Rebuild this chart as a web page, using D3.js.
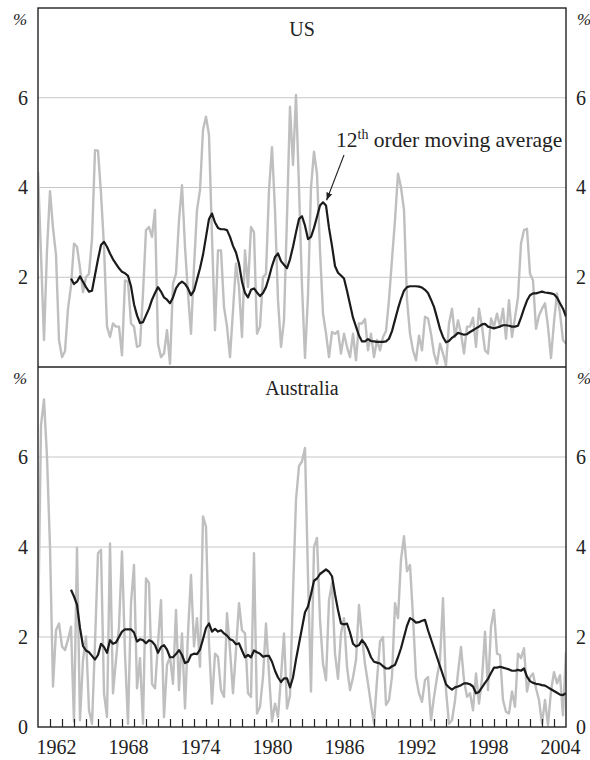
<!DOCTYPE html>
<html>
<head>
<meta charset="utf-8">
<script src="https://cdn.jsdelivr.net/npm/d3@7"></script>
<style>
  body { margin: 0; background: #fff; }
  text { font-family: "Liberation Serif", "Times New Roman", serif; fill: #222; }
</style>
</head>
<body>
<svg width="590" height="760"></svg>
<script>
// quarterly series, first point at 1961.0
var rawStart = 1961;
var usRaw = [
  4.35, 2.5, 0.6, 2.6,   3.92, 3.1, 2.5, 0.6,   0.22, 0.35, 1.3, 1.8,   2.75, 2.68, 2.2, 1.67,
  2.0, 2.08, 2.85, 4.83, 4.82, 3.87, 2.68, 0.9,  0.67, 0.97, 0.9, 0.9,   0.26, 1.93, 1.9, 0.97,
  0.9, 0.45, 0.48, 1.64, 3.05, 3.12, 2.9, 3.5,   0.52, 0.22, 0.3, 0.82,  0.07, 1.86, 2.08, 3.27,
  4.05, 2.68, 1.64, 0.74, 2.23, 3.5, 3.94, 5.28, 5.58, 5.17, 2.9, 0.82,  2.6, 2.6, 1.34, 0.9,
  0.22, 1.26, 2.3, 1.78, 0.67, 2.6, 1.78, 3.12,  3.0, 0.74, 0.9, 2.0,    2.08, 3.94, 4.9, 3.5,
  1.49, 0.45, 1.04, 3.35, 5.8, 4.5, 6.06, 4.0,   1.8, 0.2, 1.6, 4.0,     4.8, 4.3, 2.6, 1.19,
  0.75, 0.22, 0.78, 0.74, 0.8, 0.3, 0.74, 0.45,  0.22, 0.74, 0.15, 0.97, 0.97, 1.07, 0.37, 0.74,
  0.22, 0.6, 0.37, 0.67, 0.8, 1.5, 2.4, 3.27,    4.31, 4.0, 3.5, 1.5,    0.74, 0.37, 0.15, 0.7,
  0.37, 1.12, 1.08, 0.74, 0.3, 0.07, 0.52, 0.3,  0.04, 0.97, 1.3, 0.67,  1.04, 0.75, 0.3, 0.9,
  0.9, 1.1, 0.45, 1.3,   0.9, 0.37, 0.3, 1.08,   0.9, 1.19, 0.9, 1.3,    0.63, 1.49, 0.67, 1.1,
  1.56, 2.75, 3.05, 3.08, 2.08, 1.93, 0.85, 1.15, 1.3, 1.42, 0.9, 0.2,   1.0, 1.64, 1.2, 0.6,
  0.52
];
var auRaw = [
  2.0, 6.7, 7.28, 6.0,   4.0, 0.9, 2.15, 2.3,   1.79, 1.71, 1.94, 2.23, 0.12, 3.98, 0.15, 1.49,
  2.01, 0.37, 0.07, 1.86, 3.86, 3.94, 0.75, 0.22, 4.08, 0.75, 1.49, 2.23, 3.9, 1.63, 0.07, 2.75,
  3.6, 0.86, 1.53, 0.07, 3.3, 3.2, 0.96, 0.86,   1.86, 2.82, 0.22, 1.38, 1.56, 0.96, 2.6, 0.82,
  2.08, 0.41, 2.08, 3.38, 1.79, 2.42, 1.34, 4.68, 4.45, 1.86, 0.52, 1.63, 1.56, 0.82, 0.67, 2.53,
  1.71, 0.75, 1.71, 2.75, 2.15, 2.08, 0.75, 0.67, 3.86, 0.3, 0.45, 1.11, 2.3, 1.19, 0.12, 0.52,
  0.22, 1.11, 2.08, 0.41, 0.7, 2.97, 5.05, 5.8,  5.9, 6.2, 3.35, 0.79,   4.0, 4.2, 2.38, 1.41,
  1.04, 2.82, 3.2, 1.63, 1.07, 2.08, 2.42, 1.34, 0.82, 1.1, 1.49, 2.71,  2.0, 1.4, 0.97, 0.5,
  0.07, 1.04, 1.9, 2.0,  0.49, 0.6, 1.12, 2.75,  2.42, 3.72, 4.24, 3.46, 3.6, 2.45, 1.11, 0.75,
  0.56, 1.04, 1.11, 0.15, 0.67, 1.1, 1.49, 2.86, 0.82, 0.07, 0.15, 0.59, 1.2, 1.78, 1.04, 0.67,
  0.75, 0.37, 1.19, 0.52, 1.07, 2.12, 0.82, 2.23, 2.6, 1.63, 1.6, 0.6,   0.34, 0.3, 0.79, 0.45,
  1.63, 1.53, 1.75, 0.79, 1.11, 1.19, 0.86, 0.6, 0.07, 0.6, 0.04, 0.8,  1.22, 0.97, 1.15, 0.26,
  1.66
];

// 12th order moving averages, quarterly, first point at 1963.75
var maStart = 1963.75;
var usMA = [
  1.97,
  1.85, 1.9, 2.02, 1.9,   1.78, 1.68, 1.7, 2.05,  2.4, 2.72, 2.79, 2.68,  2.53, 2.4, 2.3, 2.2,
  2.12, 2.09, 2.03, 1.8,  1.4, 1.15, 0.98, 1.0,   1.15, 1.3, 1.5, 1.65,   1.78, 1.68, 1.55, 1.5,
  1.42, 1.55, 1.75, 1.85, 1.9, 1.85, 1.75, 1.6,   1.7, 1.95, 2.2, 2.5,    2.9, 3.3, 3.42, 3.22,
  3.1, 3.07, 3.07, 3.05,  2.9, 2.7, 2.55, 2.3,    1.9, 1.65, 1.55, 1.72,  1.75, 1.66, 1.58, 1.65,
  1.78, 2.0, 2.25, 2.45,  2.53, 2.36, 2.28, 2.2,  2.4, 2.68, 3.0, 3.3,    3.36, 3.15, 2.85, 2.9,
  3.1, 3.35, 3.6, 3.67,   3.6, 3.1, 2.7, 2.25,    2.1, 2.04, 1.97, 1.7,   1.4, 1.1, 0.9, 0.7,
  0.57, 0.57, 0.62, 0.58, 0.57, 0.56, 0.56, 0.56, 0.57, 0.63, 0.8, 1.05,  1.3, 1.52, 1.7, 1.78,
  1.8, 1.8, 1.8, 1.79,    1.77, 1.72, 1.65, 1.5,  1.34, 1.1, 0.85, 0.67,  0.55, 0.58, 0.65, 0.7,
  0.76, 0.74, 0.72, 0.73, 0.78, 0.82, 0.86, 0.9,  0.95, 0.96, 0.9, 0.88,  0.86, 0.88, 0.9, 0.93,
  0.93, 0.92, 0.9, 0.9,   0.92, 1.1, 1.3, 1.48,   1.6, 1.64, 1.64, 1.66,  1.68, 1.66, 1.65, 1.64,
  1.62, 1.55, 1.42, 1.3,  1.12
];
var auMA = [
  3.05,
  2.9, 2.72, 2.2, 1.8,    1.7, 1.66, 1.58, 1.5,   1.6, 1.85, 1.78, 1.65,  1.93, 1.85, 1.88, 2.0,
  2.12, 2.17, 2.17, 2.17, 2.1, 1.9, 1.95, 1.93,   1.86, 1.93, 1.9, 1.82,  1.65, 1.78, 1.82, 1.72,
  1.55, 1.55, 1.62, 1.71, 1.6, 1.42, 1.45, 1.6,   1.63, 1.62, 1.72, 1.95, 2.2, 2.3, 2.12, 2.18,
  2.12, 2.15, 2.08, 2.03, 1.95, 1.92, 1.84, 1.86, 1.7, 1.55, 1.6, 1.55,   1.7, 1.66, 1.63, 1.56,
  1.58, 1.58, 1.45, 1.25, 1.1, 1.0, 1.08, 1.08,   0.88, 1.1, 1.5, 1.85,   2.2, 2.55, 2.68, 2.95,
  3.25, 3.3, 3.4, 3.45,   3.5, 3.45, 3.35, 2.95,  2.6, 2.3, 2.28, 2.3,    2.1, 1.85, 1.79, 1.82,
  1.93, 1.85, 1.72, 1.55, 1.45, 1.43, 1.41, 1.35, 1.3, 1.3, 1.35, 1.38,   1.55, 1.75, 2.0, 2.25,
  2.42, 2.38, 2.32, 2.33, 2.36, 2.38, 2.15, 1.95, 1.75, 1.55, 1.35, 1.15, 0.95, 0.88, 0.83, 0.88,
  0.9, 0.93, 0.97, 0.97,  0.95, 0.9, 0.75, 0.78,  0.88, 0.98, 1.07, 1.2,  1.32, 1.32, 1.34, 1.32,
  1.3, 1.28, 1.25, 1.25,  1.27, 1.25, 1.3, 1.12,  1.02, 0.98, 0.96, 0.95, 0.93, 0.92, 0.88, 0.84,
  0.8, 0.76, 0.72, 0.71,  0.75
];

var yTicks = [2, 4, 6];
var yearLabels = [1962, 1968, 1974, 1980, 1986, 1992, 1998, 2004];

var svg = d3.select("svg"),
    plotLeft = 38, plotRight = 566, plotTop = 8, plotMid = 367, plotBottom = 727;

var x = d3.scaleLinear().domain([1961, 2005]).range([plotLeft, plotRight]);

var panels = [
  { name: "US", raw: usRaw, ma: usMA, y: d3.scaleLinear().domain([0, 8]).range([plotMid, plotTop]), ticks: yTicks },
  { name: "Australia", raw: auRaw, ma: auMA, y: d3.scaleLinear().domain([0, 8]).range([plotBottom, plotMid]), ticks: [0].concat(yTicks) }
];

panels.forEach(function(p, k) {
  var g = svg.append("g");
  var y0 = p.y.range()[1], y1 = p.y.range()[0];

  svg.append("clipPath").attr("id", "clip" + k)
    .append("rect").attr("x", plotLeft).attr("y", y0).attr("width", plotRight - plotLeft).attr("height", y1 - y0);

  g.selectAll(".grid")
    .data(yTicks)
    .enter().append("line")
      .attr("x1", plotLeft).attr("x2", plotRight)
      .attr("y1", function(d) { return p.y(d); })
      .attr("y2", function(d) { return p.y(d); })
      .attr("stroke", "#c6c6c6").attr("stroke-width", 1);

  var lineRaw = d3.line()
    .x(function(d, i) { return x(rawStart + i / 4); })
    .y(function(d) { return p.y(d); });
  var lineMA = d3.line()
    .x(function(d, i) { return x(maStart + i / 4); })
    .y(function(d) { return p.y(d); });

  var c = g.append("g").attr("clip-path", "url(#clip" + k + ")");
  c.append("path").datum(p.raw)
    .attr("d", lineRaw)
    .attr("fill", "none").attr("stroke", "#bfbfbf").attr("stroke-width", 2.4)
    .attr("stroke-linejoin", "round");
  c.append("path").datum(p.ma)
    .attr("d", lineMA)
    .attr("fill", "none").attr("stroke", "#1b1b1b").attr("stroke-width", 2.2)
    .attr("stroke-linejoin", "round");

  // tick labels both sides
  var axL = g.append("g").attr("transform", "translate(" + plotLeft + ",0)")
    .call(d3.axisLeft(p.y).tickValues(p.ticks).tickSize(0).tickPadding(10));
  var axR = g.append("g").attr("transform", "translate(" + plotRight + ",0)")
    .call(d3.axisRight(p.y).tickValues(p.ticks).tickSize(0).tickPadding(10));
  [axL, axR].forEach(function(a) {
    a.select(".domain").remove();
    a.selectAll("text").style("font-family", "Liberation Serif, serif").style("font-size", "20px").attr("fill", "#222");
  });

  svg.append("text").attr("x", 20).attr("y", y0 + 17).attr("text-anchor", "middle")
    .style("font-size", "17px").style("font-style", "italic").text("%");
  svg.append("text").attr("x", 577).attr("y", y0 + 17)
    .style("font-size", "17px").style("font-style", "italic").text("%");

  svg.append("text").attr("x", (plotLeft + plotRight) / 2).attr("y", y0 + 28)
    .attr("text-anchor", "middle").style("font-size", "20px").text(p.name);
});

// year ticks along the bottom, labels centred on each year
var tickAxis = svg.append("g").attr("transform", "translate(0," + plotBottom + ")")
  .call(d3.axisTop(x).tickValues(d3.range(1962, 2005)).tickSize(8).tickFormat(""));
tickAxis.select(".domain").remove();
tickAxis.selectAll("line").attr("stroke", "#222").attr("stroke-width", 1.2);

var labelAxis = svg.append("g").attr("transform", "translate(0," + plotBottom + ")")
  .call(d3.axisBottom(x).tickValues(yearLabels.map(function(d) { return d + 0.5; }))
    .tickSize(0).tickPadding(13).tickFormat(function(d) { return Math.floor(d); }));
labelAxis.select(".domain").remove();
labelAxis.selectAll("text").style("font-family", "Liberation Serif, serif").style("font-size", "20px").attr("fill", "#222");

// frame
svg.append("rect").attr("x", plotLeft).attr("y", plotTop).attr("width", plotRight - plotLeft).attr("height", plotBottom - plotTop)
  .attr("fill", "none").attr("stroke", "#222").attr("stroke-width", 1.4);
svg.append("line").attr("x1", plotLeft).attr("x2", plotRight).attr("y1", plotMid).attr("y2", plotMid)
  .attr("stroke", "#222").attr("stroke-width", 1.4);

// annotation
var note = svg.append("text").attr("x", 336).attr("y", 147).style("font-size", "21.5px");
note.append("tspan").text("12");
note.append("tspan").attr("dy", -8).style("font-size", "14px").text("th");
note.append("tspan").attr("dy", 8).text(" order moving average");

svg.append("defs").append("marker")
    .attr("id", "arrow").attr("viewBox", "0 0 10 10").attr("refX", 10).attr("refY", 5)
    .attr("markerWidth", 7).attr("markerHeight", 7).attr("orient", "auto")
  .append("path").attr("d", "M0,1 L10,5 L0,9 Z").attr("fill", "#222");
svg.append("line")
  .attr("x1", 344).attr("y1", 155)
  .attr("x2", x(1984.8) + 3).attr("y2", panels[0].y(3.67) - 2)
  .attr("stroke", "#222").attr("stroke-width", 1.1)
  .attr("marker-end", "url(#arrow)");
</script>
</body>
</html>
